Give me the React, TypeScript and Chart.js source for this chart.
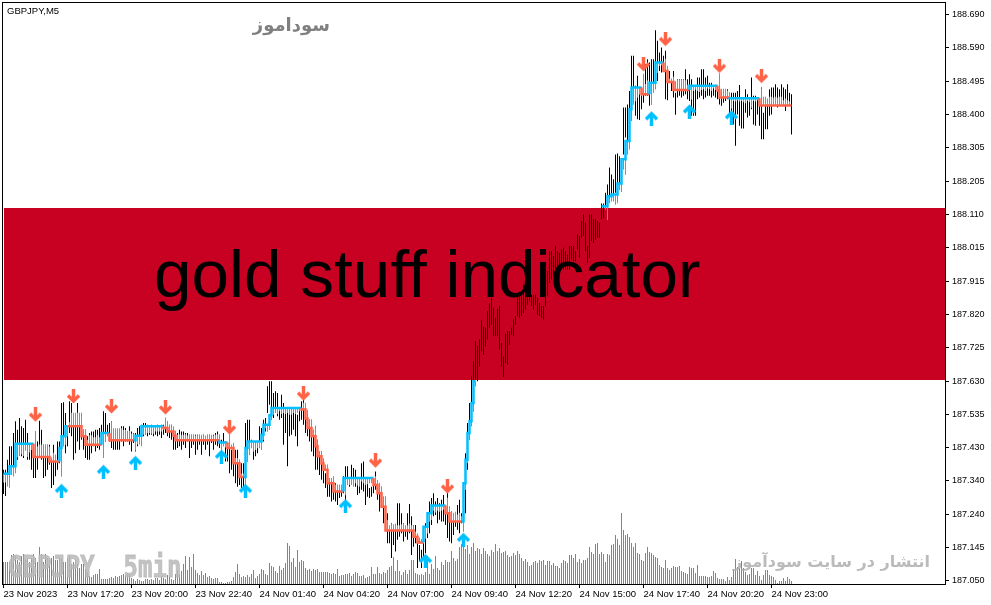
import React, { useEffect, useRef } from "react";
import { Chart, registerables } from "chart.js";

Chart.register(...registerables);

// Prices are stored as points above 187.000 (1 point = 0.001)
const highs = [
  372,372,401,440,440,478,512,488,522,498,
  493,517,478,449,444,430,483,454,514,488,
  444,444,444,444,401,444,411,454,454,565,
  567,536,498,570,565,536,536,565,536,536,
  488,488,469,478,483,483,488,488,493,502,
  541,536,502,507,512,488,478,488,483,498,
  498,493,483,498,483,478,478,493,498,502,
  507,507,502,498,502,498,498,502,498,502,
  502,522,493,493,488,478,473,478,488,483,
  483,478,478,473,473,473,473,473,473,469,
  473,469,473,473,469,473,478,483,473,459,
  478,454,444,454,430,449,430,430,401,391,
  391,507,517,517,459,454,454,454,498,493,
  517,522,614,628,628,594,599,594,551,589,
  565,551,551,541,541,541,546,531,551,570,
  575,531,512,517,493,478,444,430,420,411,
  391,362,362,348,348,333,333,314,328,323,
  353,382,382,348,386,377,372,348,343,391,
  396,348,333,319,323,343,367,333,314,309,
  285,275,246,198,217,198,198,275,275,246,
  217,198,246,273,237,212,212,178,154,140,
  159,217,227,280,290,304,280,290,275,285,
  299,265,323,246,251,246,246,270,285,246,
  283,420,507,565,642,686,744,730,749,805,
  786,783,831,853,870,841,812,838,846,739,
  700,766,773,773,783,807,817,873,889,875,
  908,908,913,908,879,879,879,870,855,846,
  846,913,947,1005,1005,991,1020,1005,1000,1010,
  1015,1005,995,1020,1020,1020,1005,1053,1049,1092,
  1111,1087,1020,1111,1111,1097,1097,1092,1087,1143,
  1143,1174,1198,1247,1227,1213,1285,1288,1280,1271,
  1421,1421,1430,1469,1571,1571,1484,1513,1459,1479,
  1513,1546,1561,1551,1561,1561,1645,1614,1580,1595,
  1571,1585,1493,1527,1493,1527,1464,1503,1503,1503,
  1503,1532,1503,1517,1503,1484,1474,1508,1508,1532,
  1532,1508,1513,1493,1493,1484,1484,1484,1508,1474,
  1474,1464,1474,1464,1464,1464,1464,1469,1486,1445,
  1445,1474,1459,1445,1508,1455,1455,1450,1426,1479,
  1406,1440,1435,1474,1479,1479,1488,1479,1474,1488,
  1479,1474,1488,1464,1459,
];
const lows = [
  302,296,324,353,362,372,391,401,435,411,
  406,440,401,401,372,348,348,372,411,401,
  348,353,372,386,319,328,353,372,391,353,
  469,420,440,478,469,401,420,454,430,459,
  430,406,401,401,420,440,425,435,430,444,
  406,454,478,454,435,430,430,430,430,454,
  440,454,454,444,425,449,425,440,454,464,
  469,473,469,473,473,469,473,469,473,464,
  473,478,469,464,459,430,430,435,440,430,
  444,435,454,406,435,444,415,430,444,415,
  444,430,444,411,449,430,444,440,435,415,
  440,396,396,362,372,353,333,323,328,319,
  314,314,396,435,440,401,411,420,435,430,
  454,483,536,560,541,522,536,527,517,522,
  444,478,382,469,473,488,469,440,512,517,
  502,478,469,454,425,411,372,372,357,343,
  333,319,294,294,280,285,280,270,290,294,
  304,280,328,323,328,328,323,299,304,314,
  309,270,294,290,294,304,314,285,251,261,
  217,212,159,159,116,154,135,169,178,188,
  164,178,169,188,125,149,159,87,106,87,
  111,130,174,188,212,237,241,217,227,222,
  222,212,174,164,159,183,207,198,188,217,
  198,246,372,469,507,589,633,628,671,715,
  705,729,749,783,792,759,759,759,720,671,
  641,681,676,734,763,759,792,817,812,817,
  826,836,850,860,846,836,850,821,817,812,
  807,846,875,913,923,933,952,962,962,952,
  952,952,952,952,981,976,976,1010,986,1044,
  1049,1005,971,986,1034,1029,1039,1044,1044,1097,
  1102,1126,1116,1164,1164,1155,1174,1198,1203,1222,
  1285,1334,1324,1368,1426,1450,1397,1387,1385,1416,
  1435,1455,1455,1426,1459,1493,1527,1498,1527,1522,
  1527,1445,1442,1493,1469,1450,1400,1450,1455,1450,
  1455,1459,1445,1440,1397,1397,1397,1445,1450,1455,
  1445,1450,1455,1455,1450,1455,1450,1445,1430,1426,
  1435,1440,1445,1397,1406,1372,1310,1401,1368,1360,
  1360,1406,1392,1397,1416,1372,1368,1401,1368,1329,
  1329,1358,1358,1397,1401,1426,1435,1421,1426,1426,
  1426,1411,1430,1426,1343,
];
const volumes = [
  22,22,22,22,29,30,28,24,22,28,
  30,24,26,22,26,30,26,22,37,30,
  22,30,26,24,26,28,24,24,26,26,
  22,22,26,28,20,22,24,20,16,20,
  20,15,12,8,7,9,10,10,15,5,
  5,5,5,6,7,6,8,7,8,9,
  10,9,11,10,6,5,3,5,4,3,
  3,5,5,4,5,4,6,6,4,8,
  6,5,9,7,5,4,10,14,10,13,
  20,28,14,27,17,30,14,11,9,13,
  9,11,7,8,6,5,6,6,2,2,
  1,1,2,2,3,7,12,20,10,7,
  8,7,9,7,10,14,6,8,10,15,
  14,10,9,21,18,17,13,11,18,14,
  16,21,41,38,22,26,17,34,22,24,
  23,16,14,15,13,15,14,15,12,12,
  12,12,12,11,10,11,10,15,8,9,
  9,10,10,11,8,10,12,11,8,8,
  9,6,7,8,17,10,10,17,11,10,
  12,11,14,17,18,27,13,24,13,9,
  12,14,10,14,24,24,11,10,9,10,
  9,12,28,10,20,15,28,16,14,22,
  19,24,22,22,33,26,23,25,37,40,
  39,35,39,30,37,41,33,36,35,30,
  36,33,30,28,34,32,40,33,36,31,
  32,33,29,27,28,31,29,33,30,26,
  23,25,22,18,19,22,23,21,24,23,
  24,19,23,23,19,21,18,18,16,21,
  24,23,21,29,29,26,30,22,25,21,
  24,24,26,37,32,30,40,41,30,32,
  30,22,30,29,39,40,49,45,39,71,
  54,49,50,47,41,37,41,31,30,24,
  23,31,37,32,31,29,27,26,19,17,
  16,24,16,14,16,18,17,17,18,13,
  12,11,10,17,16,16,11,19,8,8,
  8,8,7,7,8,13,11,6,5,5,
  5,3,7,4,7,15,25,17,16,23,
  16,12,9,10,16,16,9,13,8,4,
  9,14,14,9,8,7,4,1,3,3,
  6,3,7,5,3,
];

// Indicator line: level holds from each start bar until the next start bar
const lineStarts = [
  0,4,7,16,24,29,30,32,33,40,42,50,54,66,67,70,81,83,86,87,109,113,116,119,121,122,123,130,131,134,
  135,150,152,153,155,157,158,160,161,163,166,171,186,188,190,192,206,208,211,213,215,222,224,230,
  231,232,233,234,235,236,237,299,303,305,308,310,312,314,315,320,324,327,331,333,336,344,358,359,364,379,
];
const lineLevels = [
  360,382,447,409,396,435,469,498,498,469,444,478,457,457,470,498,493,483,470,457,451,435,391,351,351,435,454,473,502,530,
  551,546,520,493,469,440,411,390,372,333,309,348,328,304,265,196,178,161,207,246,268,246,222,222,
  333,401,478,512,565,628,null,1135,1164,1169,1201,1271,1324,1416,1479,1459,1493,1551,1527,1495,1472,1484,1470,1450,1448,1427,
];
// Bars at which the indicator changes colour (it starts blue)
const trendFlips = [16,29,33,50,54,66,81,109,113,121,150,171,186,211,222,230,320,324,331,344,358,364,379];

// Length of the coloured indicator bar, in points, below the banner
const reachBelowBanner = [
  25,25,35,40,25,30,20,40,35,30,
  35,20,38,25,18,10,75,30,36,36,
  36,36,36,30,12,25,20,5,10,82,
  30,25,30,12,39,39,39,39,39,39,
  20,20,15,28,28,22,22,28,22,15,
  72,25,10,10,55,35,35,35,35,35,
  30,30,28,28,20,20,30,25,25,30,
  25,25,20,20,22,22,15,15,15,15,
  10,30,20,20,20,15,15,16,18,16,
  16,18,14,16,18,16,14,18,16,16,
  18,14,16,18,16,14,16,18,16,25,
  10,15,15,40,10,15,15,15,10,10,
  10,50,40,40,20,30,25,20,20,25,
  15,10,20,15,15,20,15,18,10,18,
  15,18,15,20,20,15,18,15,10,5,
  20,20,25,25,25,20,30,20,15,15,
  15,15,15,15,15,20,20,20,20,20,
  15,50,20,20,20,25,15,22,25,10,
  15,20,18,15,15,12,25,15,30,20,
  30,30,30,15,20,18,20,15,15,18,
  20,15,15,20,15,15,15,10,15,10,
  10,35,20,25,20,15,20,15,18,15,
  12,15,45,20,30,25,28,20,25,15,
  30,20,10,20,15,25,15,
];
// The same, above the banner, from bar 299
const reachAboveBanner = [
  0,0,10,40,20,15,20,30,25,20,
  25,30,45,40,25,35,50,40,30,20,
  25,60,30,40,30,65,30,20,30,10,
  8,10,35,15,10,10,15,25,30,30,
  30,30,28,15,10,40,15,10,15,18,
  12,10,15,8,10,15,8,12,15,50,
  25,25,25,20,15,30,8,10,6,10,
  8,12,15,8,12,28,8,10,6,5,
  50,25,25,20,25,25,22,25,22,25,
  25,15,20,15,12,0,
];
const firstBarAboveBanner = 299;

const upArrowBars = [29,50,66,109,121,171,211,230,324,343,364];
const upArrowPoints = [311,366,392,410,311,267,108,169,1390,1410,1393];
const downArrowBars = [16,35,54,81,113,150,186,222,320,331,358,379];
const downArrowPoints = [531,584,555,552,494,592,398,323,1546,1619,1541,1512];

const priceLabels = [
  "187.050","187.145","187.240","187.340","187.430","187.535","187.630","187.725","187.820",
  "187.915","188.015","188.110","188.205","188.305","188.400","188.495","188.590","188.690",
];
const timeTicks = [0,32,64,96,128,160,192,224,256,288,320,352,384];
const timeLabels = [
  "23 Nov 2023","23 Nov 17:20","23 Nov 20:00","23 Nov 22:40","24 Nov 01:40","24 Nov 04:20",
  "24 Nov 07:00","24 Nov 09:40","24 Nov 12:20","24 Nov 15:00","24 Nov 17:40","24 Nov 20:20","24 Nov 23:00",
];

const BLUE = "#00bfff";
const RED = "#ff6347";
const toPrice = (p: number) => 187 + p / 1000;
const priceTickStep = (188.69 - 187.05) / (priceLabels.length - 1);

function levelAt(i: number): number | null {
  let level: number | null = null;
  for (let k = 0; k < lineStarts.length; k++) if (lineStarts[k] <= i) level = lineLevels[k];
  return level;
}
function isUp(i: number): boolean {
  let up = true;
  for (const f of trendFlips) if (f <= i) up = !up;
  return up;
}
function reachAt(i: number): number {
  if (i >= firstBarAboveBanner) return reachAboveBanner[i - firstBarAboveBanner] ?? 0;
  return reachBelowBanner[i] ?? 0;
}

function makeArrow(up: boolean, color: string): HTMLCanvasElement {
  const c = document.createElement("canvas");
  c.width = 15;
  c.height = 15;
  const g = c.getContext("2d")!;
  g.strokeStyle = color;
  if (!up) {
    g.translate(0, 15);
    g.scale(1, -1);
  }
  g.lineWidth = 3.5;
  g.beginPath();
  g.moveTo(7.5, 15);
  g.lineTo(7.5, 3);
  g.stroke();
  g.lineWidth = 3.5;
  g.beginPath();
  g.moveTo(2, 8.5);
  g.lineTo(7.5, 3);
  g.lineTo(13, 8.5);
  g.stroke();
  return c;
}

const framePlugin = {
  id: "frameAndBanner",
  beforeDatasetsDraw(chart: any) {
    const { ctx, chartArea: a } = chart;
    ctx.save();
    ctx.fillStyle = "#c80021";
    ctx.fillRect(4, 208, a.right - 4, 172);
    ctx.restore();
  },
  afterDatasetsDraw(chart: any) {
    const { ctx, chartArea: a } = chart;
    ctx.save();
    ctx.strokeStyle = "#000";
    ctx.lineWidth = 1;
    ctx.strokeRect(a.left + 0.5, a.top + 0.5, a.right - a.left, a.bottom - a.top);
    ctx.restore();
  },
};

const overlay = (style: React.CSSProperties): React.CSSProperties => ({
  position: "absolute",
  whiteSpace: "nowrap",
  lineHeight: 1,
  ...style,
});

export default function App() {
  const ref = useRef<HTMLCanvasElement>(null);

  useEffect(() => {
    const bars = highs.map((_, i) => i);
    const levels = bars.map(levelAt);
    const chart = new Chart(ref.current!, {
      type: "bar",
      data: {
        datasets: [
          {
            type: "bar",
            label: "Volume",
            yAxisID: "v",
            order: 5,
            grouped: false,
            barThickness: 1,
            inflateAmount: 0,
            backgroundColor: "#3fb43f",
            data: volumes.map((v, i) => ({ x: i, y: v })),
          },
          {
            type: "bar",
            label: "GBPJPY",
            yAxisID: "y",
            order: 4,
            grouped: false,
            barThickness: 1,
            inflateAmount: 0,
            backgroundColor: "#000",
            data: bars.map((i) => ({ x: i, y: [toPrice(lows[i]), toPrice(highs[i])] })),
          },
          {
            type: "bar",
            label: "Indicator bars",
            yAxisID: "y",
            order: 3,
            grouped: false,
            barThickness: 1,
            inflateAmount: 0,
            backgroundColor: bars
              .filter((i) => levels[i] !== null)
              .map((i) => (isUp(i) ? BLUE : RED)),
            data: bars
              .filter((i) => levels[i] !== null)
              .map((i) => {
                const l = levels[i] as number;
                const e = isUp(i) ? l - reachAt(i) : l + reachAt(i);
                return { x: i, y: [toPrice(Math.min(l, e)), toPrice(Math.max(l, e))] };
              }),
          },
          {
            type: "line",
            label: "Indicator",
            yAxisID: "y",
            order: 2,
            stepped: "after",
            borderWidth: 2.5,
            pointRadius: 0,
            borderColor: BLUE,
            spanGaps: false,
            segment: {
              borderColor: (c: any) => (isUp(c.p1.parsed.x) ? BLUE : RED),
            },
            data: bars.map((i) => ({ x: i, y: levels[i] === null ? null : toPrice(levels[i] as number) })),
          },
          {
            type: "scatter",
            label: "Up signals",
            yAxisID: "y",
            order: 1,
            pointStyle: makeArrow(true, BLUE),
            pointRadius: 7,
            data: upArrowBars.map((b, k) => ({ x: b, y: toPrice(upArrowPoints[k]) })),
          },
          {
            type: "scatter",
            label: "Down signals",
            yAxisID: "y",
            order: 1,
            pointStyle: makeArrow(false, RED),
            pointRadius: 7,
            data: downArrowBars.map((b, k) => ({ x: b, y: toPrice(downArrowPoints[k]) })),
          },
        ] as any,
      },
      options: {
        animation: false,
        responsive: false,
        devicePixelRatio: 1,
        layout: { autoPadding: false, padding: { left: 2, top: 2, right: 0, bottom: 0 } },
        plugins: { legend: { display: false }, tooltip: { enabled: false } },
        events: [],
        scales: {
          x: {
            type: "linear",
            offset: false,
            min: -0.75,
            max: 470.75,
            afterFit: (s: any) => {
              s.height = 21;
              s.paddingLeft = 0;
              s.paddingRight = 0;
            },
            afterBuildTicks: (s: any) => {
              s.ticks = timeTicks.map((value) => ({ value }));
            },
            border: { display: false },
            grid: { offset: false, drawOnChartArea: false, drawTicks: true, tickLength: 4, color: "#000" },
            ticks: {
              autoSkip: false,
              maxRotation: 0,
              align: "start",
              padding: 1,
              color: "#000",
              font: { family: "'Liberation Sans'", size: 9.5 },
              callback: (_v: any, k: number) => timeLabels[k],
            },
          },
          y: {
            type: "linear",
            position: "right",
            min: 187.041,
            max: 188.7265,
            afterFit: (s: any) => {
              s.width = 46;
              s.paddingTop = 0;
              s.paddingBottom = 0;
            },
            afterBuildTicks: (s: any) => {
              s.ticks = priceLabels.map((_, k) => ({ value: 187.05 + k * priceTickStep }));
            },
            border: { display: false },
            grid: { drawOnChartArea: false, drawTicks: true, tickLength: 4, color: "#000" },
            ticks: {
              autoSkip: false,
              padding: 3,
              color: "#000",
              font: { family: "'Liberation Sans'", size: 9 },
              callback: (_v: any, k: number) => priceLabels[k],
            },
          },
          v: { type: "linear", display: false, min: 0, max: 582 },
        },
      } as any,
      plugins: [framePlugin as any],
    });
    return () => chart.destroy();
  }, []);

  return (
    <div style={{ position: "absolute", left: 0, top: 0, width: 991, height: 605, overflow: "hidden", background: "#fff" }}>
      <canvas ref={ref} width={991} height={605} style={{ display: "block" }} />
      <div style={overlay({ left: 7, top: 5, font: "9.5px 'Liberation Sans'", color: "#000" })}>GBPJPY,M5</div>
      <div dir="rtl" style={overlay({ left: 254, top: 14, width: 76, textAlign: "center", font: "bold 18px 'DejaVu Sans'", color: "#7f7f7f" })}>سوداموز</div>
      <div style={overlay({ left: 154, top: 235, font: "67.5px 'Liberation Sans'", color: "#000" })}>gold stuff indicator</div>
      <div
        style={overlay({
          left: 8,
          top: 549,
          font: "bold 24px 'DejaVu Sans Mono'",
          color: "rgba(185,185,185,0.85)",
          WebkitTextStroke: "0.7px rgba(185,185,185,0.85)",
          transform: "scaleY(1.28)",
          transformOrigin: "left top",
          whiteSpace: "pre",
        } as any)}
      >
        {"GBPJPY  5min"}
      </div>
      <div dir="rtl" style={overlay({ left: 728, top: 552, width: 202, textAlign: "right", font: "bold 16px 'DejaVu Sans'", color: "rgba(175,175,175,0.85)" })}>انتشار در سایت سودآموز</div>
    </div>
  );
}
